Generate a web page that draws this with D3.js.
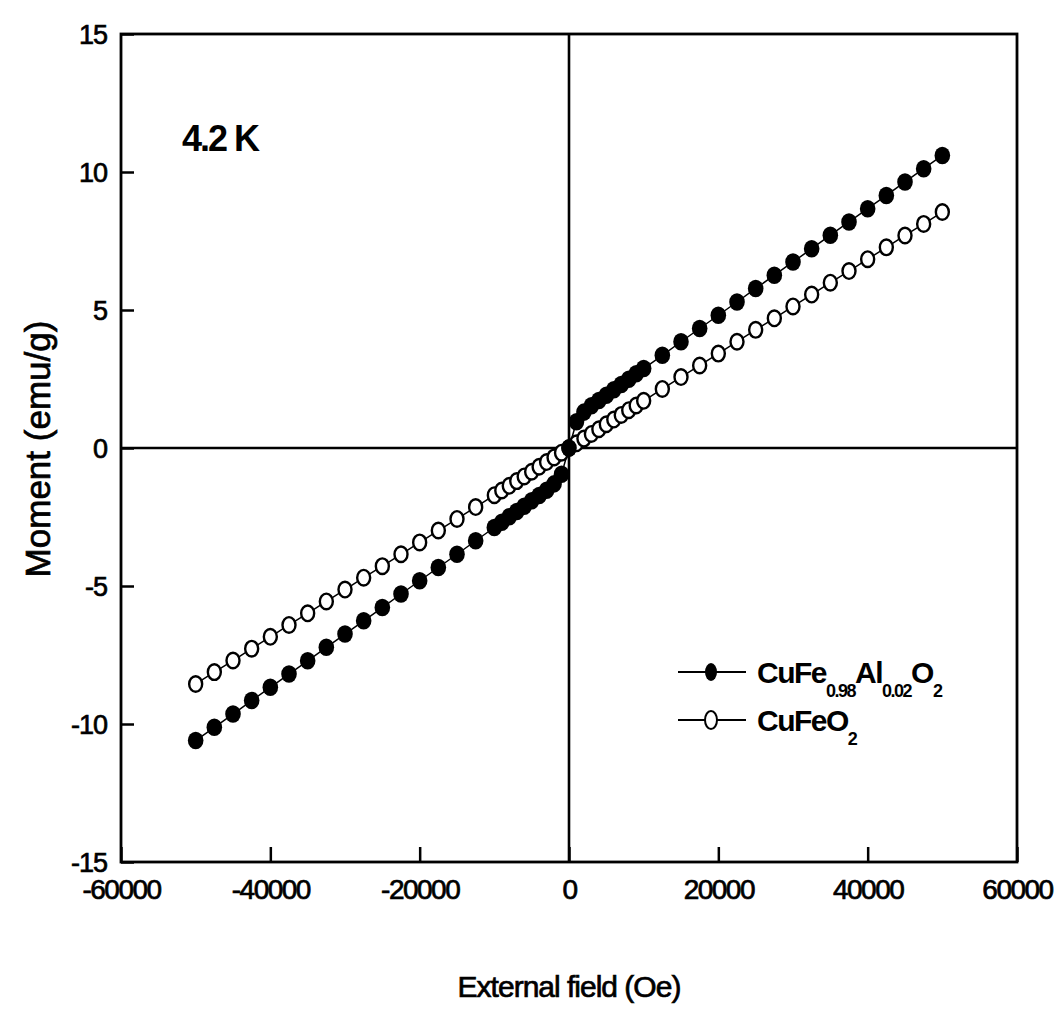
<!DOCTYPE html>
<html lang="en">
<head>
    <meta charset="UTF-8">
    <title>Moment vs External field, 4.2 K</title>
    <script src="https://d3js.org/d3.v7.min.js"></script>
    <style>
        body { margin: 0; background: #fff; }
        text { font-family: "Liberation Sans", Arial, sans-serif; fill: #000; }
        .heavy { stroke: #000; stroke-width: 0.7px; }
    </style>
</head>
<body>
    <script>
        // field values (Oe), shared by both series
        const field = [
            -50000, -47500, -45000, -42500, -40000, -37500, -35000, -32500,
            -30000, -27500, -25000, -22500, -20000, -17500, -15000, -12500,
            -10000, -9000, -8000, -7000, -6000, -5000, -4000, -3000, -2000, -1000,
            0,
            1000, 2000, 3000, 4000, 5000, 6000, 7000, 8000, 9000, 10000,
            12500, 15000, 17500, 20000, 22500, 25000, 27500, 30000,
            32500, 35000, 37500, 40000, 42500, 45000, 47500, 50000
        ];

        // CuFe0.98Al0.02O2 (filled circles), emu/g
        const alMoment = [
            -10.6, -10.12, -9.64, -9.15, -8.67, -8.19, -7.71, -7.22,
            -6.74, -6.26, -5.78, -5.29, -4.81, -4.33, -3.85, -3.36,
            -2.88, -2.69, -2.49, -2.30, -2.11, -1.91, -1.72, -1.53, -1.30, -0.95,
            0,
            0.95, 1.30, 1.53, 1.72, 1.91, 2.11, 2.30, 2.49, 2.69, 2.88,
            3.36, 3.85, 4.33, 4.81, 5.29, 5.78, 6.26, 6.74,
            7.22, 7.71, 8.19, 8.67, 9.15, 9.64, 10.12, 10.6
        ];

        // CuFeO2 (open circles), emu/g
        const pureMoment = [
            -8.55, -8.12, -7.70, -7.27, -6.84, -6.41, -5.99, -5.56,
            -5.13, -4.70, -4.28, -3.85, -3.42, -2.99, -2.57, -2.14,
            -1.71, -1.54, -1.37, -1.20, -1.03, -0.86, -0.68, -0.51, -0.34, -0.17,
            0,
            0.17, 0.34, 0.51, 0.68, 0.86, 1.03, 1.20, 1.37, 1.54, 1.71,
            2.14, 2.57, 2.99, 3.42, 3.85, 4.28, 4.70, 5.13,
            5.56, 5.99, 6.41, 6.84, 7.27, 7.70, 8.12, 8.55
        ];

        const xTicks = [-60000, -40000, -20000, 0, 20000, 40000, 60000];
        const yTicks = [-15, -10, -5, 0, 5, 10, 15];

        const width = 1064, height = 1020;
        const margin = {top: 34, right: 47, bottom: 158, left: 121};
        const w = width - margin.left - margin.right;
        const h = height - margin.top - margin.bottom;

        const svg = d3.select("body").append("svg")
            .attr("width", width)
            .attr("height", height);

        const g = svg.append("g")
            .attr("transform", "translate(" + margin.left + "," + margin.top + ")");

        const x = d3.scaleLinear().domain([-60000, 60000]).range([0, w]);
        const y = d3.scaleLinear().domain([-15, 15]).range([h, 0]);

        // bottom axis, ticks pointing inward
        const xAxis = g.append("g")
            .attr("transform", "translate(0," + h + ")")
            .call(d3.axisBottom(x).tickValues(xTicks).tickSize(-15).tickSizeOuter(0).tickPadding(0));
        xAxis.selectAll("line").attr("stroke-width", 2.5);
        xAxis.select(".domain").remove();
        xAxis.selectAll("text")
            .attr("class", "heavy")
            .attr("y", 37).attr("dy", 0)
            .style("font-size", "28px")
            .style("letter-spacing", "-1.5px")
            .text(d => d);

        // left axis
        const yAxis = g.append("g")
            .call(d3.axisLeft(y).tickValues(yTicks).tickSize(-13).tickSizeOuter(0).tickPadding(0));
        yAxis.selectAll("line").attr("stroke-width", 2.5);
        yAxis.select(".domain").remove();
        yAxis.selectAll("text")
            .attr("class", "heavy")
            .attr("x", -14).attr("dy", "0.36em")
            .style("font-size", "27px")
            .style("letter-spacing", "-1px")
            .attr("text-anchor", "end")
            .text(d => d);

        // frame
        g.append("rect")
            .attr("width", w).attr("height", h)
            .attr("fill", "none").attr("stroke", "#000").attr("stroke-width", 2.8);

        // zero lines
        g.append("line")
            .attr("x1", 0).attr("x2", w).attr("y1", y(0)).attr("y2", y(0))
            .attr("stroke", "#000").attr("stroke-width", 2.6);
        g.append("line")
            .attr("x1", x(0)).attr("x2", x(0)).attr("y1", 0).attr("y2", h)
            .attr("stroke", "#000").attr("stroke-width", 2.6);

        const line = d3.line().x(d => x(d[0])).y(d => y(d[1]));
        const alData = field.map((f, i) => [f, alMoment[i]]);
        const pureData = field.map((f, i) => [f, pureMoment[i]]);

        g.append("path").datum(pureData).attr("d", line)
            .attr("fill", "none").attr("stroke", "#000").attr("stroke-width", 1.5);
        g.append("path").datum(alData).attr("d", line)
            .attr("fill", "none").attr("stroke", "#000").attr("stroke-width", 1.5);

        g.selectAll(".open").data(pureData).enter().append("ellipse")
            .attr("class", "open")
            .attr("cx", d => x(d[0])).attr("cy", d => y(d[1]))
            .attr("rx", 6.5).attr("ry", 7.8)
            .attr("fill", "#fff").attr("stroke", "#000").attr("stroke-width", 2.4);

        g.selectAll(".filled").data(alData).enter().append("ellipse")
            .attr("class", "filled")
            .attr("cx", d => x(d[0])).attr("cy", d => y(d[1]))
            .attr("rx", 7.8).attr("ry", 8.8)
            .attr("fill", "#000");

        // temperature label
        svg.append("text")
            .attr("x", 182).attr("y", 151)
            .style("font-size", "36px").style("font-weight", "bold")
            .style("letter-spacing", "-2px")
            .text("4.2 K");

        // axis titles
        svg.append("text")
            .attr("class", "heavy")
            .attr("x", 569).attr("y", 997)
            .attr("text-anchor", "middle")
            .style("font-size", "30px")
            .style("letter-spacing", "-1px")
            .text("External field (Oe)");

        svg.append("text")
            .attr("class", "heavy")
            .attr("transform", "translate(50,449) rotate(-90)")
            .attr("text-anchor", "middle")
            .style("font-size", "35px")
            .text("Moment (emu/g)");

        // legend
        const legend = svg.append("g");
        const rows = [
            {y: 672, filled: true, parts: [["CuFe", 0], ["0.98", 1], ["Al", 0], ["0.02", 1], ["O", 0], ["2", 1]]},
            {y: 720, filled: false, parts: [["CuFe", 0], ["O", 0], ["2", 1]]}
        ];
        rows.forEach(r => {
            legend.append("line")
                .attr("x1", 678).attr("x2", 746).attr("y1", r.y).attr("y2", r.y)
                .attr("stroke", "#000").attr("stroke-width", 2.2);
            legend.append("ellipse")
                .attr("cx", 711).attr("cy", r.y).attr("rx", 6).attr("ry", 9)
                .attr("fill", r.filled ? "#000" : "#fff")
                .attr("stroke", "#000").attr("stroke-width", r.filled ? 0 : 2);
            const t = legend.append("text")
                .attr("x", 757).attr("y", r.y + 11)
                .style("font-size", "30px").style("font-weight", "bold")
                .style("letter-spacing", "-1.5px");
            let sub = false;
            r.parts.forEach(p => {
                const isSub = p[1] === 1;
                const ts = t.append("tspan").text(p[0]);
                if (isSub) ts.style("font-size", "18px").attr("dy", sub ? 0 : 14);
                else if (sub) ts.attr("dy", -14);
                sub = isSub;
            });
        });
    </script>
</body>
</html>
